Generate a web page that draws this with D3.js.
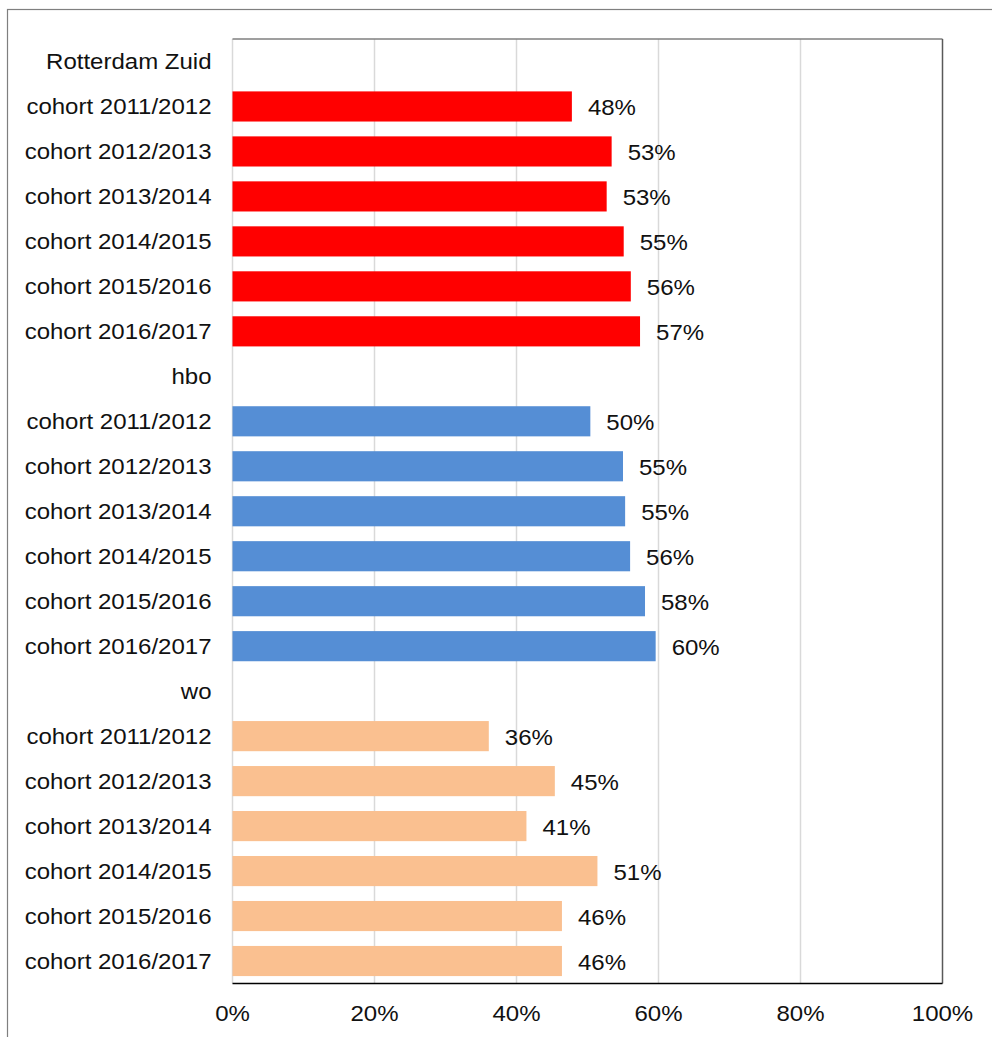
<!DOCTYPE html>
<html><head><meta charset="utf-8">
<script src="https://cdn.jsdelivr.net/npm/d3@7"></script>
<style>body{margin:0;background:#fff}svg{display:block}text{font-family:"Liberation Sans",Arial,sans-serif;fill:#111}</style>
</head><body>
<svg id="c" width="992" height="1037"></svg>
<script>
const groups = ["Rotterdam Zuid", "hbo", "wo"];
const cohorts = ["cohort 2011/2012","cohort 2012/2013","cohort 2013/2014","cohort 2014/2015","cohort 2015/2016","cohort 2016/2017"];
const rotterdamZuid = [47.8, 53.4, 52.7, 55.1, 56.1, 57.4];
const hbo = [50.4, 55.0, 55.3, 56.0, 58.1, 59.6];
const wo = [36.1, 45.4, 41.4, 51.4, 46.4, 46.4];
const groupColors = ["#FF0000", "#558ED5", "#FAC090"];
const xTicks = [0, 20, 40, 60, 80, 100];

const seriesValues = [rotterdamZuid, hbo, wo];
const rows = [];
groups.forEach((g, gi) => {
  rows.push({key: "g" + gi, label: g, value: null, color: null});
  cohorts.forEach((c, ci) => rows.push({key: gi + "-" + ci, label: c, value: seriesValues[gi][ci], color: groupColors[gi]}));
});

const svg = d3.select("#c");
const L = 232.5, R = 942.5, T = 39, B = 983.5;
const FS = 22, SX = 1.092;

// outer frame
svg.append("rect").attr("x", 7.5).attr("y", 9.5).attr("width", 1000).attr("height", 1100)
  .attr("fill", "none").attr("stroke", "#7f7f7f").attr("stroke-width", 1.2);

const x = d3.scaleLinear().domain([0, 100]).range([L, R]);
const y = d3.scaleBand().domain(rows.map(r => r.key)).range([T, B]).paddingInner(0.33).paddingOuter(0.165);

// gridlines
svg.append("g").selectAll("line").data(xTicks.slice(0, -1)).join("line")
  .attr("x1", d => x(d)).attr("x2", d => x(d)).attr("y1", T).attr("y2", B)
  .attr("stroke", "#d9d9d9").attr("stroke-width", 1.5);

// plot borders
svg.append("line").attr("x1", L).attr("x2", R).attr("y1", T).attr("y2", T).attr("stroke", "#7f7f7f").attr("stroke-width", 1.5);
svg.append("line").attr("x1", R).attr("x2", R).attr("y1", T).attr("y2", B).attr("stroke", "#595959").attr("stroke-width", 1.5);

// bars
const barRows = rows.filter(r => r.value !== null);
svg.append("g").selectAll("rect").data(barRows).join("rect")
  .attr("x", x(0)).attr("y", d => y(d.key)).attr("width", d => x(d.value) - x(0)).attr("height", y.bandwidth())
  .attr("fill", d => d.color);

// bottom axis line
svg.append("line").attr("x1", L).attr("x2", R).attr("y1", B).attr("y2", B).attr("stroke", "#000").attr("stroke-width", 1.5);

// category labels
svg.append("g").selectAll("text").data(rows).join("text")
  .attr("transform", d => `translate(211.5,${y(d.key) + y.bandwidth() / 2 + 8}) scale(${SX},1)`)
  .attr("text-anchor", "end").attr("font-size", FS).text(d => d.label);

// value labels
svg.append("g").selectAll("text").data(barRows).join("text")
  .attr("transform", d => `translate(${x(d.value) + 16},${y(d.key) + y.bandwidth() / 2 + 9}) scale(${SX},1)`)
  .attr("font-size", FS).text(d => Math.round(d.value) + "%");

// x tick labels
svg.append("g").selectAll("text").data(xTicks).join("text")
  .attr("transform", d => `translate(${x(d)},1021) scale(${SX},1)`)
  .attr("text-anchor", "middle").attr("font-size", FS).text(d => d + "%");
</script>
</body></html>
